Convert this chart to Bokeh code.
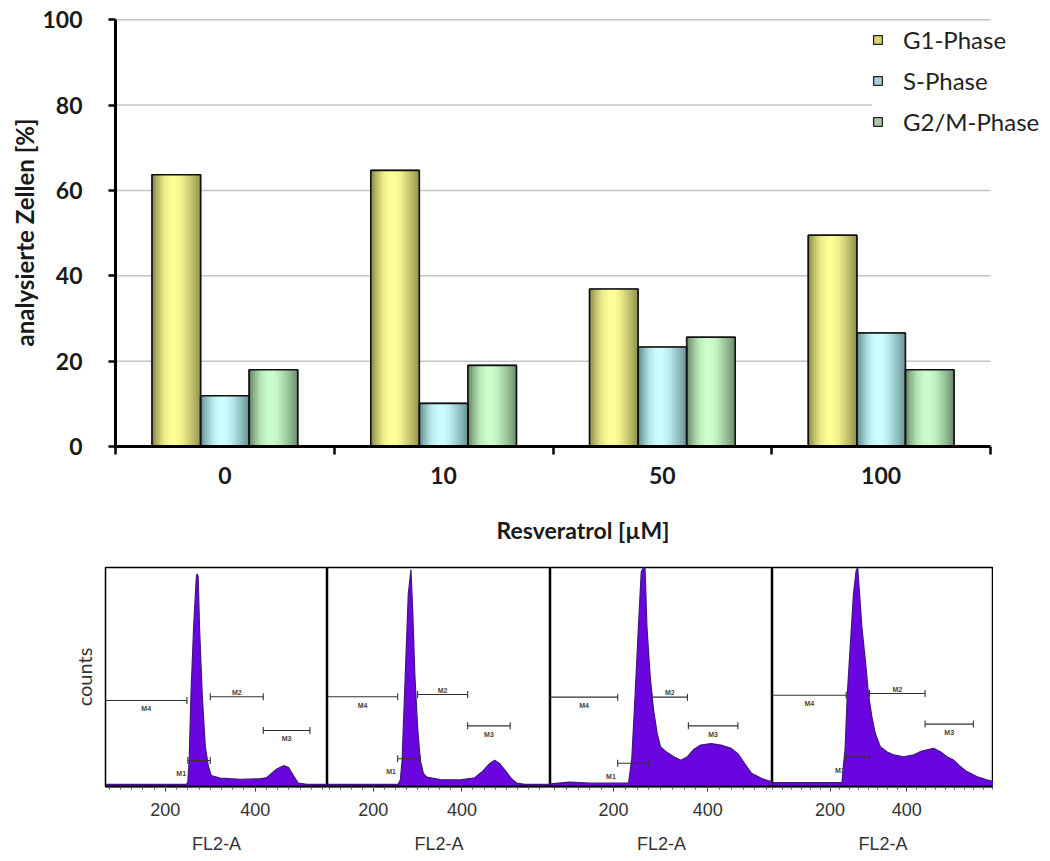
import numpy as np
from bokeh.plotting import figure
from bokeh.models import ColumnDataSource, FixedTicker, Range1d, Legend, LegendItem
from bokeh.layouts import column, row
from bokeh.embed import file_html
from bokeh.resources import INLINE
from bokeh.core.properties import value

# ---------------- cell-cycle distribution (bar chart) ----------------
doses = ["0", "10", "50", "100"]
phase_names = ["G1-Phase", "S-Phase", "G2/M-Phase"]
g1_phase = [63.7, 64.7, 36.9, 49.5]
s_phase = [11.9, 10.1, 23.3, 26.6]
g2m_phase = [18.0, 19.0, 25.6, 18.0]
pct_ticks = [0, 20, 40, 60, 80, 100]

# ---------------- DNA histograms: FL2-A channel vs. relative counts ----------------
fl2_ticks = [200, 400]

hist0_ch = [67, 167, 247, 250, 253, 257, 263, 269, 271, 273, 276, 282, 289, 296, 302,
            322, 367, 411, 426, 448, 463, 474, 485, 496, 515, 562]
hist0_ct = [1, 1, 1, 2, 12, 42, 73, 96, 97, 96, 73, 42, 18, 9, 5,
            3.8, 3.3, 3.5, 4.1, 8, 9.5, 8.8, 5, 1.5, 1, 1]

hist1_ch = [97, 256, 261, 265, 272, 279, 285, 289, 294, 300, 306, 313, 321, 351, 396,
            429, 447, 463, 474, 485, 499, 512, 524, 542, 600]
hist1_ct = [1, 1, 3, 12, 50, 88, 99, 80, 50, 27, 12, 6, 4.3, 3.2, 3,
            4, 7, 10.5, 12, 10.5, 7, 3.5, 1.5, 1, 1]

hist2_ch = [66, 107, 150, 232, 236, 239, 246, 253, 259, 263, 267, 271, 278, 285, 293,
            300, 311, 328, 343, 357, 371, 385, 407, 428, 450, 464, 478, 493, 514, 538]
hist2_ct = [1.2, 2, 1.5, 1.5, 8, 13, 42, 73, 98, 100, 100, 73, 50, 35, 24,
            18, 16, 13.6, 12, 13.6, 17, 18.9, 19.6, 18.9, 17.4, 15, 10.6, 6, 3.7, 2]

hist3_ch = [50, 150, 231, 235, 239, 245, 253, 261, 268, 272, 277, 283, 292, 300, 309, 318,
            331, 348, 366, 392, 418, 435, 453, 470, 488, 505, 522, 540, 557, 583, 609, 627]
hist3_ct = [1.8, 1.8, 1.8, 10, 16.7, 42.4, 65.2, 87.9, 98.5, 100, 87.9, 72.7, 57.6, 42.4, 31.8, 24.2,
            18.2, 15.9, 14.4, 13.6, 14.4, 15.9, 16.7, 17.4, 15.9, 13.6, 12.1, 9.1, 6.8, 4.5, 3, 2.3]

# marker gates M1..M4 as (start channel, end channel, height in %)
gate_names = ["M1", "M2", "M3", "M4"]
gates0 = [(250, 300, 11.9), (300, 418, 41.0), (418, 522, 25.6), (0, 248, 39.3)]
gates1 = [(255, 306, 12.7), (300, 413, 42.0), (413, 509, 27.7), (0, 255, 41.0)]
gates2 = [(209, 275, 10.6), (282, 357, 40.8), (359, 464, 27.7), (0, 209, 40.8)]
gates3 = [(242, 303, 13.4), (303, 448, 42.5), (448, 574, 28.5), (0, 242, 41.7)]

# ======================= bar chart =======================
FONT = "Lato"
n_cat = len(doses)
# the frame runs on past the last category so the legend has room at the right
x_end = n_cat * 935 / 875
p = figure(width=1050, height=550, x_range=Range1d(0, x_end), y_range=Range1d(0, 100.3),
           output_backend="svg", toolbar_location=None,
           min_border_left=115, min_border_right=0, min_border_top=18, min_border_bottom=104)
p.outline_line_color = None
p.background_fill_color = "white"
p.grid.visible = False

# horizontal gridlines, limited to the category area
grid_y = pct_ticks[1:]
p.segment(x0=[0] * len(grid_y), x1=[n_cat] * len(grid_y), y0=grid_y, y1=grid_y,
          line_color="#c4c4c4", line_width=1.5)

bw = 0.222
light = [(0xff, 0xff, 0x99), (0xcc, 0xff, 0xff), (0xcc, 0xff, 0xcc)]
dark = [(0x72, 0x72, 0x36), (0x4c, 0x74, 0x7a), (0x52, 0x6e, 0x52)]
legend_fill = ["#dcd672", "#a9cdd4", "#aacaa8"]
# cylinder-like shading across each bar (left -> right)
shade_u = [0.0, 0.1, 0.25, 0.4, 0.5, 0.62, 0.75, 0.88, 1.0]
shade_f = [0.1, 0.45, 0.85, 1.0, 1.0, 0.9, 0.68, 0.45, 0.2]
ns = 24
profile = np.interp((np.arange(ns) + 0.5) / ns, shade_u, shade_f)


def mix(c1, c2, t):
    return "#%02x%02x%02x" % tuple(int(round(a + (b - a) * t)) for a, b in zip(c1, c2))


series = [g1_phase, s_phase, g2m_phase]
leg_items = []
for j, vals in enumerate(series):
    xs = [i + 0.5 + (j - 1) * bw for i in range(n_cat)]
    base = p.vbar(x=xs, top=vals, bottom=0, width=bw, fill_color=legend_fill[j],
                  line_color="#222222", line_width=1.3)
    leg_items.append(LegendItem(label=phase_names[j], renderers=[base]))

sx, stop, scol = [], [], []
for j, vals in enumerate(series):
    for i, v in enumerate(vals):
        xc = i + 0.5 + (j - 1) * bw
        for k, f in enumerate(profile):
            sx.append(xc - bw / 2 + (k + 0.5) * bw / ns)
            stop.append(v)
            scol.append(mix(dark[j], light[j], f))
p.vbar(x="x", top="top", bottom=0, width=bw / ns * 1.15, fill_color="c", line_color=None,
       source=ColumnDataSource(dict(x=sx, top=stop, c=scol)))

for j, vals in enumerate(series):
    xs = [i + 0.5 + (j - 1) * bw for i in range(n_cat)]
    p.vbar(x=xs, top=vals, bottom=0, width=bw, fill_color=None,
           line_color="#111111", line_width=1.6)

legend = Legend(items=leg_items, location=(757, 310), glyph_width=11, glyph_height=11,
                label_height=25, spacing=12, padding=13, label_standoff=20,
                background_fill_color="white", background_fill_alpha=1.0,
                border_line_color=None, label_text_font=FONT,
                label_text_font_size="24px", label_text_color="#222222")
p.add_layout(legend)

# y axis
p.yaxis.ticker = FixedTicker(ticks=pct_ticks)
p.yaxis.bounds = (0, 100)
p.yaxis.axis_line_width = 3
p.yaxis.axis_line_color = "black"
p.yaxis.major_tick_out = 7
p.yaxis.major_tick_in = 0
p.yaxis.major_tick_line_width = 2.5
p.yaxis.minor_tick_line_color = None
p.yaxis.major_label_standoff = 26
p.yaxis.major_label_text_font = FONT
p.yaxis.major_label_text_font_style = "bold"
p.yaxis.major_label_text_font_size = "23px"
p.yaxis.major_label_text_color = "#1a1a1a"
p.yaxis.axis_label = "analysierte Zellen [%]"
p.yaxis.axis_label_text_font = FONT
p.yaxis.axis_label_text_font_style = "bold"
p.yaxis.axis_label_text_font_size = "24px"
p.yaxis.axis_label_text_color = "#1a1a1a"
p.yaxis.axis_label_standoff = 0

# x axis: labels at category centres, ticks between categories
p.xaxis.ticker = FixedTicker(ticks=[i + 0.5 for i in range(n_cat)],
                             minor_ticks=list(range(n_cat + 1)))
p.xaxis.bounds = (0, n_cat)
p.xaxis.major_label_overrides = {i + 0.5: d for i, d in enumerate(doses)}
p.xaxis.major_tick_line_color = None
p.xaxis.major_tick_out = 7
p.xaxis.minor_tick_in = 0
p.xaxis.minor_tick_out = 8
p.xaxis.minor_tick_line_width = 2.5
p.xaxis.minor_tick_line_color = "black"
p.xaxis.axis_line_width = 3
p.xaxis.axis_line_color = "black"
p.xaxis.major_label_standoff = 12
p.xaxis.major_label_text_font = FONT
p.xaxis.major_label_text_font_style = "bold"
p.xaxis.major_label_text_font_size = "23px"
p.xaxis.major_label_text_color = "#1a1a1a"
p.xaxis.axis_label = "Resveratrol [µM]"
p.xaxis.axis_label_text_font = FONT
p.xaxis.axis_label_text_font_style = "bold"
p.xaxis.axis_label_text_font_size = "23px"
p.xaxis.axis_label_text_color = "#1a1a1a"
p.xaxis.axis_label_standoff = 29

# ======================= histogram panels =======================
panels = [(hist0_ch, hist0_ct, gates0), (hist1_ch, hist1_ct, gates1),
          (hist2_ch, hist2_ct, gates2), (hist3_ch, hist3_ct, gates3)]
views = [(66.7, 561), (96.6, 600), (66.4, 537.5), (49.6, 626.6)]
widths = [327, 223, 222, 221]
HFONT = "Liberation Sans"

hist_figs = []
for n, ((ch, ct, gates), (v0, v1), w) in enumerate(zip(panels, views, widths)):
    first = n == 0
    h = figure(width=w, height=311, x_range=Range1d(v0, v1), y_range=Range1d(0, 100),
               output_backend="svg", toolbar_location=None,
               min_border_left=105 if first else 0, min_border_right=0,
               min_border_top=17, min_border_bottom=75,
               y_axis_location="left" if first else None)
    h.grid.visible = False
    h.outline_line_color = "black"
    h.outline_line_width = 1.5
    h.varea(x=ch, y1=[0] * len(ch), y2=ct, fill_color="#6a05e0")
    h.line(ch, ct, line_color="#3d1a7a", line_width=1.2)

    # marker gates
    seg_x0, seg_x1, seg_y0, seg_y1 = [], [], [], []
    lab_x, lab_y, lab_t, lab_al, lab_bl = [], [], [], [], []
    for name, (a, b, lev) in zip(gate_names, gates):
        seg_x0 += [a, a, b]
        seg_x1 += [b, a, b]
        seg_y0 += [lev, lev - 1.6, lev - 1.6]
        seg_y1 += [lev, lev + 1.6, lev + 1.6]
        vis_a = max(a, v0)
        mid = (vis_a + b) / 2
        if name == "M1":
            lab_x.append(a - 4); lab_y.append(lev - 6); lab_al.append("right"); lab_bl.append("middle")
        elif name == "M2":
            lab_x.append(mid); lab_y.append(lev + 0.4); lab_al.append("center"); lab_bl.append("bottom")
        else:
            lab_x.append(mid); lab_y.append(lev - 2.2); lab_al.append("center"); lab_bl.append("top")
        lab_t.append(name)
    h.segment(x0=seg_x0, y0=seg_y0, x1=seg_x1, y1=seg_y1, line_color="#333333", line_width=1.1)
    h.text(x=lab_x, y=lab_y, text=lab_t, text_align=lab_al, text_baseline=lab_bl,
           text_font=value(HFONT), text_font_size="7px", text_font_style="bold",
           text_color="#444444")

    ax = h.xaxis[0]
    ax.ticker = FixedTicker(ticks=fl2_ticks, minor_ticks=list(range(0, 700, 25)))
    ax.axis_line_width = 2
    ax.axis_line_color = "black"
    ax.major_tick_out = 5
    ax.major_tick_in = 0
    ax.minor_tick_out = 3
    ax.minor_tick_in = 0
    ax.major_tick_line_color = "#333333"
    ax.minor_tick_line_color = "#555555"
    ax.major_label_standoff = 11
    ax.major_label_text_font = HFONT
    ax.major_label_text_font_size = "18px"
    ax.major_label_text_color = "#333333"
    ax.axis_label = "FL2-A"
    ax.axis_label_text_font = HFONT
    ax.axis_label_text_font_style = "normal"
    ax.axis_label_text_font_size = "18px"
    ax.axis_label_text_color = "#333333"
    ax.axis_label_standoff = 15

    if first:
        ya = h.yaxis[0]
        ya.ticker = FixedTicker(ticks=[])
        ya.axis_line_color = None
        ya.major_tick_line_color = None
        ya.minor_tick_line_color = None
        ya.axis_label = "counts"
        ya.axis_label_text_font = FONT
        ya.axis_label_text_font_style = "normal"
        ya.axis_label_text_font_size = "20px"
        ya.axis_label_text_color = "#333333"
        ya.axis_label_standoff = 10
    hist_figs.append(h)

layout = column(p, row(*hist_figs, spacing=0), spacing=0)
open("out.html", "w").write(file_html(layout, INLINE))
